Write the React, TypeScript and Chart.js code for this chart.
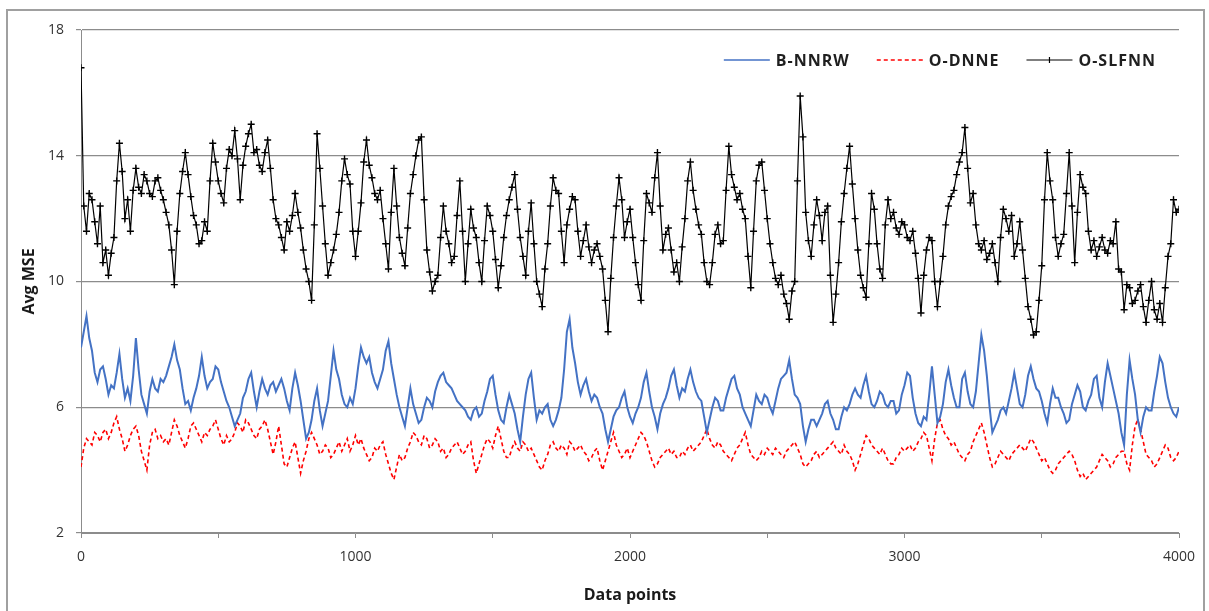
import React, { useEffect, useRef } from "react";
import { Chart, registerables } from "chart.js";

Chart.register(...registerables);

const X_STEP = 10;
const X_TICKS = [0, 1000, 2000, 3000, 4000];
const X_MINOR = [0, 500, 1000, 1500, 2000, 2500, 3000, 3500, 4000];
const Y_TICKS = [2, 6, 10, 14, 18];
const SERIES_NAMES = ["B-NNRW", "O-DNNE", "O-SLFNN"];

const bnnrw = [
  7.9, 8.4, 8.9, 8.2, 7.8, 7.1, 6.8, 7.2, 7.3, 6.9, 6.4, 6.7, 6.6, 7.1, 7.7, 6.9, 6.3, 6.6, 6.2, 7.0,
  8.2, 7.2, 6.4, 6.1, 5.8, 6.5, 6.9, 6.6, 6.5, 6.9, 6.8, 7.0, 7.3, 7.6, 8.0, 7.5, 7.2, 6.6, 6.1, 6.2,
  5.9, 6.3, 6.6, 7.0, 7.6, 7.0, 6.6, 6.8, 6.9, 7.3, 7.2, 6.8, 6.5, 6.2, 6.0, 5.7, 5.4, 5.6, 5.8, 6.3,
  6.5, 6.9, 7.1, 6.5, 6.0, 6.5, 6.9, 6.6, 6.4, 6.7, 6.8, 6.5, 6.7, 6.9, 6.6, 6.2, 5.9, 6.6, 7.1, 6.7,
  6.2, 5.6, 5.0, 5.2, 5.6, 6.2, 6.6, 5.9, 5.4, 5.8, 6.2, 7.0, 7.8, 7.2, 6.9, 6.4, 6.1, 6.0, 6.3, 6.1,
  6.6, 7.3, 7.9, 7.6, 7.4, 7.6, 7.1, 6.8, 6.6, 6.9, 7.2, 7.8, 8.1, 7.4, 6.9, 6.4, 6.0, 5.7, 5.4, 6.0,
  6.6, 6.1, 5.8, 5.5, 5.6, 6.0, 6.3, 6.2, 6.0, 6.5, 6.8, 7.0, 7.1, 6.8, 6.7, 6.6, 6.4, 6.2, 6.1, 6.0,
  5.9, 5.7, 5.6, 5.9, 6.0, 5.7, 5.8, 6.2, 6.5, 6.9, 7.0, 6.4, 5.9, 5.6, 5.5, 6.0, 6.4, 6.1, 5.8, 5.3,
  4.9, 5.7, 6.4, 6.9, 7.1, 6.3, 5.6, 5.9, 5.8, 6.0, 6.1, 5.6, 5.4, 5.6, 5.9, 6.3, 7.2, 8.4, 8.8, 7.9,
  7.4, 6.8, 6.4, 6.7, 6.9, 6.5, 6.2, 6.4, 6.3, 6.0, 5.8, 5.3, 4.9, 5.3, 5.7, 5.9, 6.0, 6.3, 6.5, 6.0,
  5.7, 5.5, 5.8, 6.0, 6.3, 6.8, 7.1, 6.5, 6.0, 5.7, 5.3, 5.8, 6.1, 6.3, 6.6, 7.0, 7.2, 6.7, 6.3, 6.6,
  6.5, 6.9, 7.2, 6.8, 6.5, 6.3, 6.2, 5.7, 5.2, 5.6, 6.0, 6.3, 6.2, 5.9, 5.9, 6.3, 6.6, 6.9, 7.0, 6.6,
  6.4, 6.0, 5.8, 5.6, 5.4, 5.9, 6.4, 6.2, 6.1, 6.4, 6.3, 6.0, 5.8, 6.2, 6.6, 6.9, 7.0, 7.1, 7.5, 6.9,
  6.4, 6.3, 6.1, 5.4, 4.9, 5.3, 5.6, 5.6, 5.4, 5.6, 5.8, 6.1, 6.2, 5.8, 5.6, 5.3, 5.3, 5.7, 6.0, 5.9,
  6.1, 6.4, 6.6, 6.4, 6.3, 6.7, 7.0, 6.5, 6.1, 6.0, 6.2, 6.5, 6.4, 6.1, 6.0, 6.2, 6.2, 5.8, 5.9, 6.4,
  6.7, 7.1, 7.0, 6.3, 5.8, 5.5, 5.4, 5.7, 5.6, 6.4, 7.3, 6.4, 5.5, 5.7, 6.1, 6.8, 7.2, 6.7, 6.3, 6.0,
  6.0, 6.9, 7.1, 6.5, 6.1, 6.0, 6.5, 7.4, 8.3, 7.8, 7.0, 6.0, 5.2, 5.4, 5.6, 5.9, 6.0, 5.8, 6.2, 6.6,
  7.1, 6.6, 6.1, 6.0, 6.4, 7.0, 7.3, 6.9, 6.6, 6.5, 6.2, 5.8, 5.5, 6.1, 6.6, 6.3, 6.3, 6.0, 5.8, 5.5,
  5.6, 6.1, 6.4, 6.7, 6.5, 6.0, 5.9, 6.2, 6.4, 6.9, 7.0, 6.3, 6.0, 6.8, 7.4, 7.0, 6.6, 6.2, 5.8, 5.2,
  4.8, 6.4, 7.5, 6.9, 6.4, 5.6, 5.2, 5.7, 6.0, 5.9, 5.9, 6.5, 7.0, 7.6, 7.4, 6.8, 6.3, 6.0, 5.8, 5.7,
  6.0,
];

const odnne = [
  4.1, 4.7, 5.0, 4.9, 4.8, 5.2, 5.1, 4.9, 5.2, 5.3, 5.0, 5.2, 5.5, 5.7, 5.3, 5.0, 4.6, 4.8, 5.1, 5.3,
  5.4, 5.1, 4.6, 4.3, 4.0, 4.8, 5.2, 5.3, 5.0, 5.1, 4.9, 5.0, 4.8, 5.2, 5.6, 5.4, 5.1, 4.9, 4.7, 5.0,
  5.4, 5.5, 5.3, 5.1, 4.9, 5.2, 5.1, 5.3, 5.4, 5.6, 5.3, 5.0, 4.8, 5.1, 4.9, 5.0, 5.2, 5.5, 5.4, 5.2,
  5.6, 5.5, 5.3, 5.1, 5.0, 5.3, 5.4, 5.6, 5.3, 4.9, 4.5, 4.9, 5.4, 4.8, 4.2, 4.1, 4.4, 4.7, 4.9, 4.4,
  3.9, 4.3, 4.6, 5.0, 5.2, 5.0, 4.8, 4.5, 4.6, 4.8, 4.7, 4.4, 4.5, 4.7, 4.9, 4.6, 4.8, 5.0, 4.6, 4.8,
  5.1, 4.8, 5.0, 4.7, 4.5, 4.3, 4.4, 4.7, 4.6, 4.8, 4.9, 4.5, 4.2, 3.9, 3.7, 4.1, 4.5, 4.3, 4.4, 4.7,
  4.9, 5.2, 5.1, 4.9, 4.8, 5.1, 5.0, 4.7, 4.8, 5.0, 4.9, 4.6, 4.7, 4.4, 4.5, 4.7, 4.8, 4.9, 4.7, 4.5,
  4.6, 4.8, 4.9, 4.3, 3.9, 4.2, 4.5, 4.8, 5.0, 4.9, 4.7, 5.1, 5.4, 5.0, 4.6, 4.4, 4.4, 4.7, 4.9, 4.7,
  4.6, 4.9, 4.8, 4.6, 4.7, 4.5, 4.3, 4.1, 4.0, 4.3, 4.5, 4.8, 4.9, 4.7, 4.6, 4.8, 4.7, 4.5, 4.9, 4.8,
  4.6, 4.7, 4.8, 4.6, 4.5, 4.3, 4.4, 4.6, 4.7, 4.3, 4.0, 4.3, 4.6, 4.9, 5.2, 4.8, 4.6, 4.4, 4.5, 4.7,
  4.4, 4.6, 4.8, 5.0, 5.2, 5.1, 4.9, 4.6, 4.3, 4.1, 4.2, 4.4, 4.5, 4.6, 4.7, 4.5, 4.6, 4.4, 4.4, 4.6,
  4.5, 4.7, 4.8, 4.6, 4.7, 4.8, 4.9, 5.1, 5.3, 5.0, 4.8, 4.7, 4.9, 4.8, 4.6, 4.5, 4.4, 4.3, 4.5, 4.7,
  4.8, 5.0, 5.2, 4.8, 4.5, 4.4, 4.3, 4.4, 4.6, 4.5, 4.7, 4.6, 4.5, 4.7, 4.6, 4.5, 4.4, 4.6, 4.7, 4.8,
  4.9, 4.7, 4.5, 4.2, 4.1, 4.2, 4.3, 4.5, 4.6, 4.4, 4.5, 4.6, 4.7, 4.8, 4.9, 4.7, 4.6, 4.5, 4.8, 4.6,
  4.5, 4.3, 4.0, 4.2, 4.5, 4.8, 5.1, 5.0, 4.8, 4.7, 4.6, 4.5, 4.7, 4.5, 4.3, 4.2, 4.2, 4.4, 4.5, 4.7,
  4.6, 4.7, 4.8, 4.6, 4.7, 4.9, 5.0, 5.2, 5.1, 4.7, 4.3, 5.0, 5.5, 5.6, 5.3, 5.1, 5.0, 4.8, 4.9, 4.7,
  4.5, 4.4, 4.3, 4.5, 4.6, 4.9, 5.1, 5.3, 5.5, 5.2, 4.8, 4.4, 4.1, 4.2, 4.4, 4.6, 4.5, 4.4, 4.3, 4.5,
  4.6, 4.7, 4.8, 4.7, 4.6, 4.8, 5.0, 4.9, 4.7, 4.5, 4.3, 4.4, 4.2, 4.0, 3.9, 4.0, 4.2, 4.3, 4.4, 4.5,
  4.6, 4.5, 4.3, 4.0, 3.8, 3.9, 3.7, 3.8, 3.9, 4.0, 4.1, 4.3, 4.5, 4.4, 4.3, 4.1, 4.2, 4.4, 4.5, 4.6,
  4.6, 4.2, 4.0, 4.8, 5.4, 5.6, 5.3, 4.9, 4.5, 4.4, 4.3, 4.1, 4.2, 4.4, 4.6, 4.8, 4.7, 4.4, 4.3, 4.4,
  4.6,
];

const oslfnn = [
  16.8, 12.4, 11.6, 12.8, 12.6, 11.9, 11.2, 12.4, 10.6, 11.0, 10.2, 10.9, 11.4, 13.2, 14.4, 13.5, 12.0, 12.6, 11.6, 12.9,
  13.6, 13.0, 12.8, 13.4, 13.2, 12.8, 12.7, 13.2, 13.3, 12.9, 12.6, 12.2, 11.8, 11.0, 9.9, 11.6, 12.8, 13.5, 14.1, 13.4,
  12.7, 12.1, 11.8, 11.2, 11.3, 11.9, 11.6, 13.2, 14.4, 13.8, 13.2, 12.8, 12.5, 13.6, 14.2, 14.0, 14.8, 13.9, 12.6, 13.7,
  14.3, 14.7, 15.0, 14.1, 14.2, 13.7, 13.5, 14.1, 14.5, 13.6, 12.6, 12.0, 11.8, 11.4, 11.0, 11.9, 11.6, 12.1, 12.8, 12.2,
  11.7, 11.0, 10.4, 10.0, 9.4, 11.8, 14.7, 13.6, 12.4, 11.2, 10.2, 10.6, 11.0, 11.5, 12.2, 13.2, 13.9, 13.4, 13.1, 11.6,
  10.8, 11.6, 12.5, 13.8, 14.5, 13.7, 13.3, 12.8, 12.6, 12.9, 12.0, 11.2, 10.4, 12.2, 13.6, 12.4, 11.4, 10.9, 10.5, 11.7,
  12.8, 13.4, 14.0, 14.5, 14.6, 12.6, 11.0, 10.3, 9.7, 10.0, 10.2, 11.4, 12.4, 11.6, 11.2, 10.6, 10.8, 12.1, 13.2, 11.6,
  10.0, 11.2, 12.3, 11.7, 11.4, 10.6, 10.0, 11.3, 12.4, 12.1, 11.6, 10.7, 9.8, 10.5, 11.4, 12.1, 12.6, 13.0, 13.4, 12.3,
  11.4, 10.8, 10.2, 11.6, 12.5, 11.2, 10.0, 9.6, 9.2, 10.4, 11.2, 12.4, 13.3, 12.9, 12.8, 11.6, 10.6, 11.8, 12.3, 12.7,
  12.6, 11.6, 10.8, 11.3, 11.8, 11.1, 10.6, 11.0, 11.2, 10.8, 10.4, 9.4, 8.4, 10.1, 11.4, 12.4, 13.3, 12.6, 11.4, 11.9,
  12.3, 11.4, 10.6, 9.9, 9.4, 11.3, 12.8, 12.5, 12.2, 13.3, 14.1, 12.4, 11.0, 11.5, 11.7, 11.0, 10.3, 10.6, 10.0, 11.1,
  12.0, 13.2, 13.8, 12.9, 12.3, 11.8, 11.5, 10.6, 10.0, 9.9, 10.6, 11.5, 11.8, 11.2, 11.3, 12.9, 14.3, 13.4, 13.0, 12.6,
  12.8, 12.3, 12.0, 10.8, 9.8, 11.6, 13.2, 13.7, 13.8, 12.9, 12.0, 11.2, 10.6, 10.1, 9.9, 10.2, 9.6, 9.3, 8.8, 9.7,
  10.0, 13.2, 15.9, 14.6, 12.2, 11.3, 10.8, 11.8, 12.6, 12.1, 11.3, 12.2, 12.4, 10.2, 8.7, 9.6, 10.6, 11.9, 12.8, 13.6,
  14.3, 13.1, 12.0, 11.0, 10.2, 9.8, 9.5, 11.2, 12.8, 12.3, 11.2, 10.4, 10.1, 11.8, 12.6, 12.0, 12.2, 11.7, 11.5, 11.9,
  11.8, 11.4, 11.3, 11.6, 10.9, 10.1, 9.0, 10.2, 11.0, 11.4, 11.3, 10.0, 9.2, 10.0, 10.8, 11.8, 12.4, 12.7, 12.9, 13.4,
  13.8, 14.1, 14.9, 13.6, 12.5, 12.8, 11.8, 11.2, 11.0, 11.3, 10.7, 10.9, 11.2, 10.6, 10.0, 11.4, 12.3, 12.0, 11.6, 12.1,
  10.8, 11.2, 11.9, 11.0, 10.1, 9.2, 8.8, 8.3, 8.4, 9.4, 10.5, 12.6, 14.1, 13.2, 12.6, 11.4, 10.8, 11.2, 11.5, 12.8,
  14.1, 12.4, 10.6, 12.2, 13.4, 13.0, 12.8, 11.6, 11.0, 11.3, 10.8, 11.1, 11.4, 11.0, 10.9, 11.3, 11.2, 11.9, 10.4, 10.3,
  9.1, 9.9, 9.8, 9.3, 9.4, 9.7, 9.9, 9.2, 8.7, 9.4, 10.0, 9.1, 8.8, 9.3, 8.7, 9.8, 10.8, 11.2, 12.6, 12.2,
  12.3,
];

const toPoints = (arr: number[]) => arr.map((v, i) => ({ x: i * X_STEP, y: v }));

const FONT = "'Open Sans', 'Liberation Sans', sans-serif";

const legendPlugin = {
  id: "insideLegend",
  afterDraw(chart: any) {
    const { ctx, chartArea } = chart;
    const lineLen = 46;
    const gapText = 6;
    const gapItem = 27;
    ctx.save();
    ctx.font = `bold 16px ${FONT}`;
    try {
      (ctx as any).letterSpacing = "1px";
    } catch (e) {}
    ctx.textBaseline = "middle";
    ctx.textAlign = "left";
    const items = chart.data.datasets.map((ds: any) => ({
      text: ds.label as string,
      color: ds.borderColor as string,
      dash: (ds.borderDash || []) as number[],
      width: Math.min(ds.borderWidth, 1.6),
      marker: ds.pointRadius > 0,
    }));
    const widths = items.map((it: any) => lineLen + gapText + ctx.measureText(it.text).width);
    const total = widths.reduce((a: number, b: number) => a + b, 0) + gapItem * (items.length - 1);
    let x = chartArea.right - 23 - total;
    const y = chartArea.top + 30;
    items.forEach((it: any, i: number) => {
      ctx.strokeStyle = it.color;
      ctx.lineWidth = it.width;
      ctx.setLineDash(it.dash);
      ctx.beginPath();
      ctx.moveTo(x, y);
      ctx.lineTo(x + lineLen, y);
      ctx.stroke();
      ctx.setLineDash([]);
      if (it.marker) {
        ctx.beginPath();
        ctx.moveTo(x + lineLen / 2, y - 3);
        ctx.lineTo(x + lineLen / 2, y + 3);
        ctx.stroke();
      }
      ctx.fillStyle = "#1f1f1f";
      ctx.fillText(it.text, x + lineLen + gapText, y + 1);
      x += widths[i] + gapItem;
    });
    ctx.restore();
  },
};

export default function App() {
  const canvasRef = useRef<HTMLCanvasElement | null>(null);

  useEffect(() => {
    if (!canvasRef.current) return;
    const chart = new Chart(canvasRef.current, {
      type: "line",
      data: {
        datasets: [
          {
            label: SERIES_NAMES[0],
            data: toPoints(bnnrw),
            borderColor: "#4472C4",
            backgroundColor: "#4472C4",
            borderWidth: 2,
            pointRadius: 0,
            tension: 0,
          },
          {
            label: SERIES_NAMES[1],
            data: toPoints(odnne),
            borderColor: "#FF0000",
            backgroundColor: "#FF0000",
            borderWidth: 1.6,
            borderDash: [4, 3],
            pointRadius: 0,
            tension: 0,
          },
          {
            label: SERIES_NAMES[2],
            data: toPoints(oslfnn),
            borderColor: "#000000",
            backgroundColor: "#000000",
            borderWidth: 1.2,
            pointStyle: "cross",
            pointRadius: 3.5,
            pointBorderWidth: 1.4,
            pointBorderColor: "#000000",
            tension: 0,
          },
        ],
      },
      options: {
        responsive: false,
        animation: false,
        layout: { padding: { left: 18, right: 30, top: 30, bottom: 0 } },
        plugins: {
          tooltip: { enabled: false },
          legend: { display: false },
        },
        scales: {
          x: {
            type: "linear",
            min: 0,
            max: 4000,
            afterBuildTicks: (s: any) => {
              s.ticks = X_MINOR.map((v) => ({ value: v }));
            },
            afterFit: (s: any) => {
              s.height = 78;
            },
            ticks: {
              autoSkip: false,
              maxRotation: 0,
              padding: 11,
              color: "#333333",
              font: { family: FONT, size: 14 },
              callback: (v: any) => (X_TICKS.includes(Number(v)) ? String(v) : ""),
            },
            grid: {
              drawOnChartArea: false,
              drawTicks: true,
              tickLength: 5,
              color: "#8c8c8c",
            },
            border: { display: true, color: "#8c8c8c", width: 1 },
            title: {
              display: true,
              text: "Data points",
              color: "#1a1a1a",
              font: { family: FONT, size: 16, weight: "bold" },
              padding: { top: 0, bottom: 6 },
            },
          },
          y: {
            type: "linear",
            min: 2,
            max: 18,
            afterBuildTicks: (s: any) => {
              s.ticks = Y_TICKS.map((v) => ({ value: v }));
            },
            afterFit: (s: any) => {
              s.width = 63;
            },
            ticks: {
              padding: 12,
              color: "#333333",
              font: { family: FONT, size: 14 },
            },
            grid: {
              color: "#8c8c8c",
              lineWidth: 1.2,
              drawTicks: true,
              tickLength: 5,
            },
            border: { display: true, color: "#8c8c8c", width: 1 },
            title: {
              display: true,
              text: "Avg MSE",
              color: "#1a1a1a",
              font: { family: FONT, size: 16, weight: "bold" },
              padding: { top: 2, bottom: 0 },
            },
          },
        },
      },
      plugins: [legendPlugin],
    });
    return () => chart.destroy();
  }, []);

  return (
    <div style={{ position: "fixed", left: 0, top: 0, width: 1209, height: 611, overflow: "hidden", background: "#fff" }}>
      <canvas ref={canvasRef} width={1209} height={611} style={{ display: "block", position: "absolute", left: 0, top: 0 }} />
      <div
        style={{
          position: "absolute",
          left: 6,
          top: 9,
          width: 1199,
          height: 610,
          borderTop: "2px solid #a0a0a0",
          borderLeft: "2px solid #a0a0a0",
          borderRight: "2px solid #a0a0a0",
          boxSizing: "border-box",
          pointerEvents: "none",
        }}
      />
    </div>
  );
}
